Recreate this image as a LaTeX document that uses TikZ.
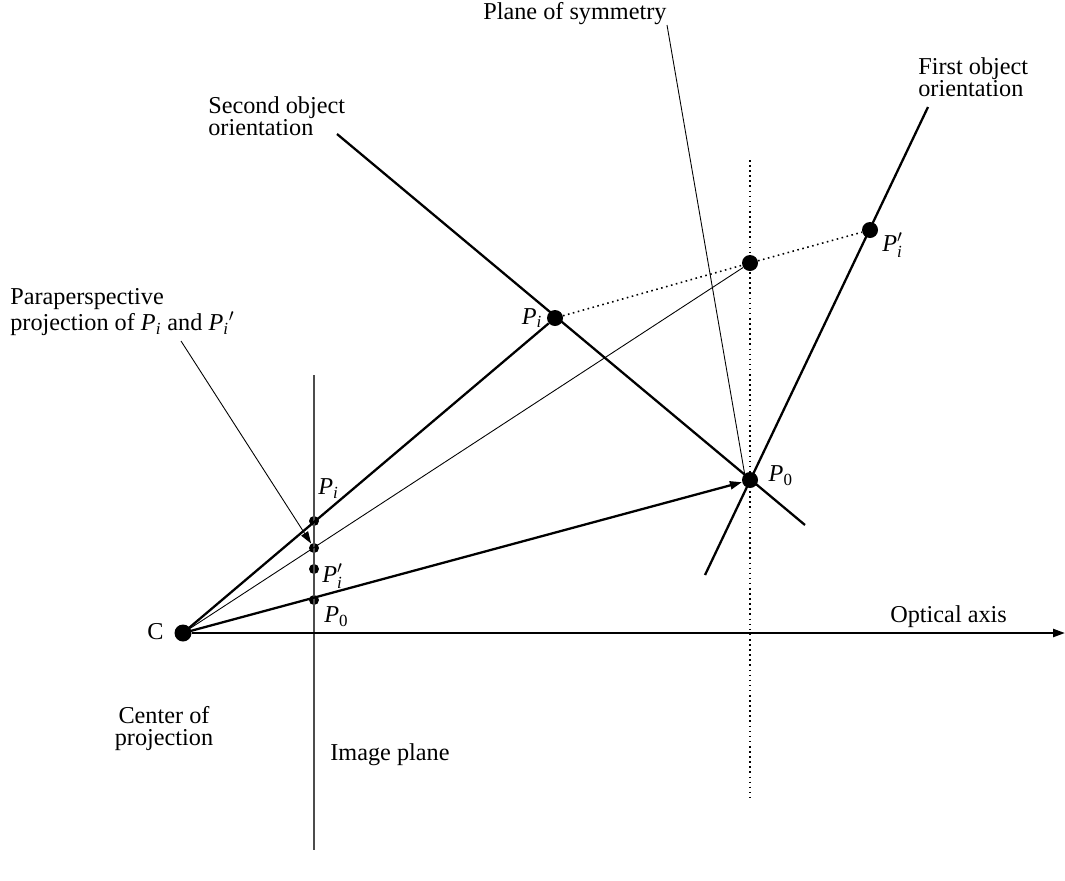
\documentclass[tikz,border=0pt]{standalone}
\usepackage{fontspec}
\setmainfont{Liberation Serif}
\usetikzlibrary{positioning,arrows.meta}
\newcommand{\Pt}[1]{$\mathit{P}_{\mathit{#1}}$}
\newcommand{\Pz}{$\mathit{P}_{\mathrm{0}}$}
\newcommand{\Ptp}{$\mathit{P}'_{\mathit{i}}$}

\begin{document}
\begin{tikzpicture}[x=0.02cm,y=-0.02cm, every node/.style={font=\fontsize{13.8}{12.5}\selectfont,align=left,inner sep=0pt},
  bigdot/.style={circle,fill,minimum size=3.2mm},
  smalldot/.style={circle,fill,minimum size=2mm},
  heavy/.style={line width=1.3pt},
  fine/.style={line width=.5pt},
  dotline/.style={dotted,line width=.9pt},
  >={Triangle[length=2.4mm,width=1.6mm]}]
\useasboundingbox (0,0) rectangle (1065,880);
% points in space
\node[bigdot,minimum size=3.4mm] (c) at (183,633) {};
\node[bigdot] (p0) at (750,480) {};
\node[bigdot] (pi) at (555,318) {};
\node[bigdot] (pip) at (870,230) {};
\node[bigdot] (mid) at (750,263) {};
% points on the image plane
\node[smalldot] (qi) at (314,521) {};
\node[smalldot] (qm) at (314,548) {};
\node[smalldot] (qip) at (314,569) {};
\node[smalldot] (q0) at (314,600) {};
\coordinate (imtop) at (314,375); \coordinate (imbot) at (314,850);
\coordinate (symtop) at (750,160); \coordinate (symbot) at (750,800);
\coordinate (axend) at (1065,633);
\coordinate (firstlo) at (705,575); \coordinate (firsthi) at (928,107);
\coordinate (secondhi) at (337,134); \coordinate (secondlo) at (805,525);
\coordinate (planetop) at (667,25); \coordinate (planebot) at (745,476);
\coordinate (parastart) at (181,341);
% labels
\node[left=0.8mm of pi] (pilbl) {\Pt{i}};
\node[anchor=north west] (piplbl) at ([xshift=2.4mm,yshift=-0.4mm]pip.center) {\Ptp};
\node[right=2mm of p0,yshift=0.8mm] (p0lbl) {\Pz};
\node[anchor=south west] (qilbl) at (318,499) {\Pt{i}};
\node[anchor=west] (qiplbl) at (322,576) {\Ptp};
\node[anchor=west] (q0lbl) at (324,617) {\Pz};
\node[anchor=east] (clbl) at (164,632) {C};
\node[anchor=north,align=center] (cop) at (164,706) {Center of\\projection};
\node[anchor=west] (implbl) at (330,755) {Image plane};
\node[anchor=west] (axlbl) at (890,617) {Optical axis};
\node[anchor=west] (sym) at (483,14) {Plane of symmetry};
\node[anchor=north west] (first) at (918,57) {First object\\orientation};
\node[anchor=north west] (second) at (208,96) {Second object\\orientation};
\node[anchor=north west] (para) at (10,288) {Paraperspective\\projection of \Pt{i} and $\mathit{P}_{\mathit{i}}{}'$};
% lines
\draw[gray!60!black,line width=.7pt] (imtop) -- (imbot);
\draw[dotline] (symtop) -- (symbot);
\draw[heavy,->] (c) -- (axend);
\draw[heavy] (firstlo) -- (firsthi);
\draw[heavy] (secondhi) -- (secondlo);
\draw[fine] (planetop) -- (planebot);
\draw[heavy] (c.center) -- (pi);
\draw[fine] (c.center) -- (mid);
\draw[heavy,->] (c.center) -- (p0);
\draw[dotline] (pi) -- (mid) -- (pip);
\draw[fine,->] (parastart) -- (qm);
\end{tikzpicture}
\end{document}
